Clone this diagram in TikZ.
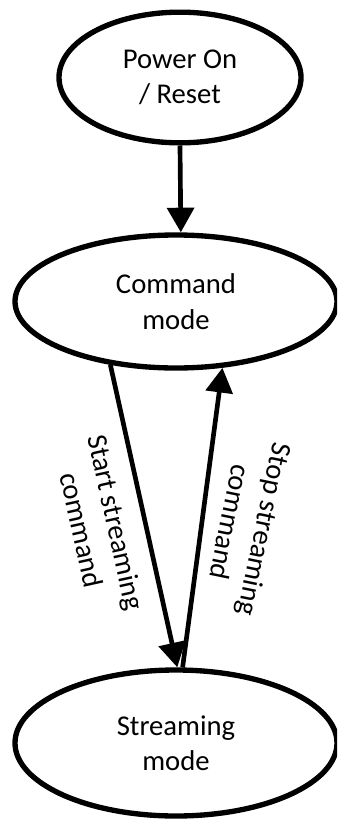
\documentclass[tikz,border=0pt]{standalone}
\usepackage{fontspec}
\setmainfont{Carlito}
\usetikzlibrary{arrows.meta,automata,shapes.geometric}
\newcommand{\borderwd}{4pt}

\begin{document}
\begin{tikzpicture}[x=0.75pt,y=-0.75pt,->,>={Triangle[length=18.5pt,width=20pt]},line width=3.5pt]
    \tikzstyle{every state}=[ellipse,draw=black,line width=\borderwd,text=black,inner sep=0pt,align=center,font=\fontsize{21.5}{26.5}\selectfont]
    \tikzstyle{cmdlabel}=[align=center,inner sep=2pt,font=\fontsize{21.5}{26.5}\selectfont]
    \useasboundingbox (0,0) rectangle (337,821);
    \clip (0,0) rectangle (337,821);
    \node[state,minimum width=181.5pt,minimum height=98pt] (0) at (180,77.5) {Power On\\/ Reset};
    \node[state,minimum width=241.5pt,minimum height=99.75pt] (1) at (176,301.5) {Command\\mode};
    \node[state,minimum width=241.5pt,minimum height=109.5pt] (2) at (176,743) {Streaming\\mode};
    \path (0.south) edge (1.86);
    \path (1.224) edge node[cmdlabel,sloped,below=10pt,midway] {Start streaming\\command} (2.89);
    \path (1.305) edge[<-] node[cmdlabel,sloped,allow upside down,above=10pt,midway,rotate=-4] {Stop streaming\\command} (2.85);
  \end{tikzpicture}
\end{document}
